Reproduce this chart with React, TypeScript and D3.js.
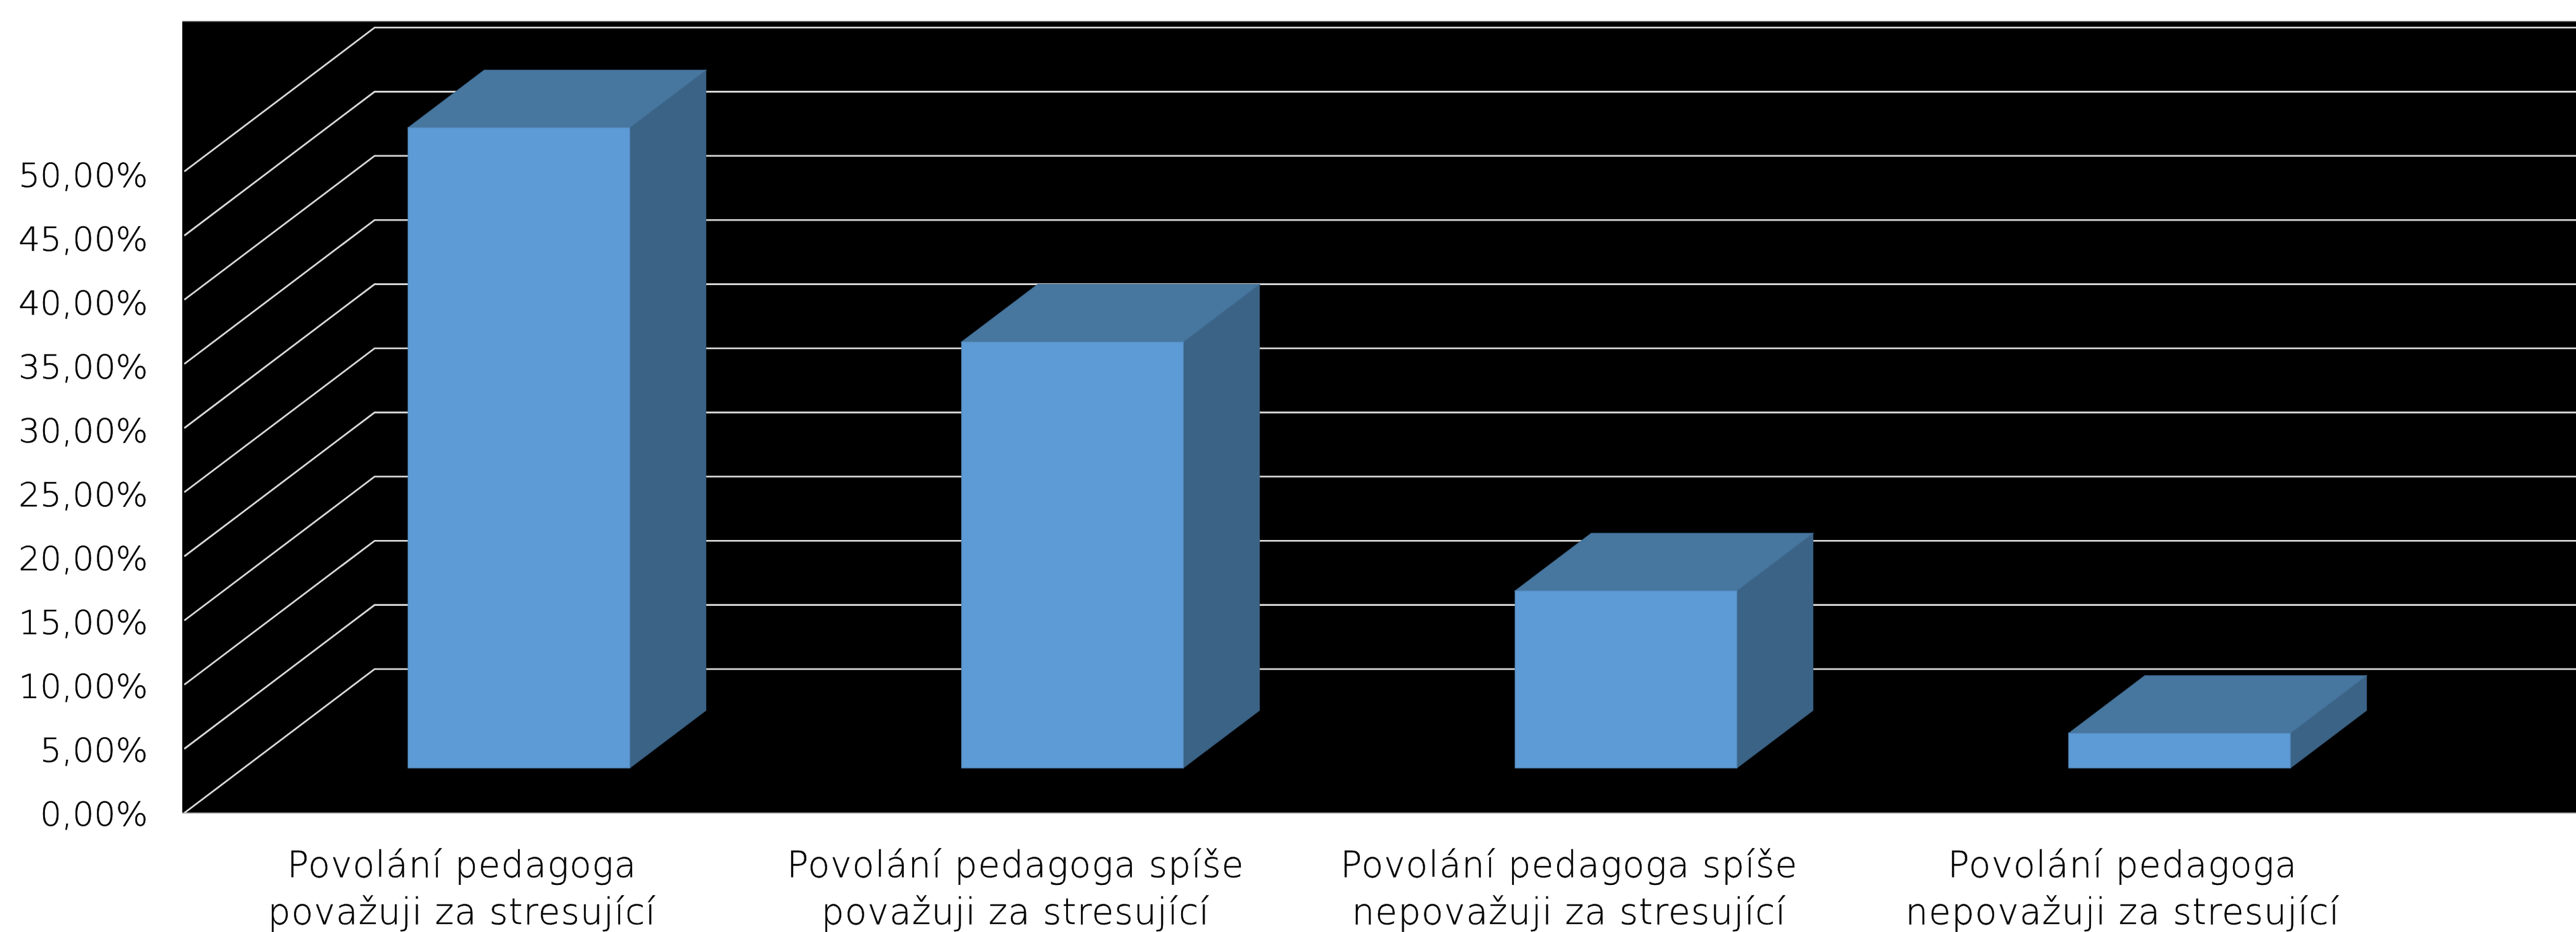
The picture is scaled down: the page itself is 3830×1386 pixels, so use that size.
import React from "react";
import * as d3 from "d3";

const categories: string[][] = [
  ["Povolání pedagoga", "považuji za stresující"],
  ["Povolání pedagoga spíše", "považuji za stresující"],
  ["Povolání pedagoga spíše", "nepovažuji za stresující"],
  ["Povolání pedagoga", "nepovažuji za stresující"],
];
const values = [49.9, 33.2, 13.8, 2.7];
const ticks = [0, 5, 10, 15, 20, 25, 30, 35, 40, 45, 50];
const tickLabels = ["0,00%", "5,00%", "10,00%", "15,00%", "20,00%", "25,00%", "30,00%", "35,00%", "40,00%", "45,00%", "50,00%"];

const W = 3830, H = 1386;
const panel = { x: 271, y: 32, r: 3830, b: 1209 };
const depth = { dx: 283, dy: -214 };
const barNear = 0.313, barFar = 0.713, barShift = 0.304;
const y = d3.scaleLinear().domain([0, 50]).range([1209, 255]);
const yLabel = d3.scaleLinear().domain([0, 50]).range([1228.3, 278]);
const x = d3.scaleBand<number>().domain(d3.range(categories.length)).range([274, 274 + 823 * 4]);
const barW = 329.5;
const FONT = "'DejaVu Sans', sans-serif";

const poly = (pts: [number, number][]) => (d3.line()(pts) as string) + "Z";

export default function App() {
  return (
    <svg width={W} height={H} viewBox={`0 0 ${W} ${H}`} style={{ position: "absolute", left: 0, top: 0, display: "block", background: "#fff" }}>
      <defs>
        <clipPath id="panel"><rect x={panel.x} y={panel.y} width={panel.r - panel.x} height={panel.b - panel.y} /></clipPath>
      </defs>
      <rect x={panel.x} y={panel.y} width={panel.r - panel.x} height={panel.b - panel.y} fill="#000" />
      <line x1={panel.x} x2={panel.r} y1={panel.y} y2={panel.y} stroke="#555" strokeWidth={1.5} />
      <line x1={panel.x} x2={panel.r} y1={panel.b} y2={panel.b} stroke="#999" strokeWidth={1.5} />
      <g clipPath="url(#panel)">
        {ticks.map((t) => (
          <path
            key={t}
            d={d3.line()([[x.range()[0], y(t)], [x.range()[0] + depth.dx, y(t) + depth.dy], [panel.r, y(t) + depth.dy]]) as string}
            fill="none" stroke="#d9d9d9" strokeWidth={2.6}
          />
        ))}
      </g>
      {ticks.map((t, i) => (
        <text key={t} x={220} y={yLabel(t)} textAnchor="end" fontFamily={FONT} fontWeight={200} fontSize={50.5} fill="#000" stroke="#000" strokeWidth={0.5}>{tickLabels[i]}</text>
      ))}
      {values.map((v, i) => {
        const cx = (x(i) as number) + x.bandwidth() / 2 + barShift * depth.dx;
        const x0 = cx - barW / 2, x1 = cx + barW / 2;
        const y0 = y(0) + barNear * depth.dy;
        const yt = y0 - (y(0) - y(v));
        const ddx = (barFar - barNear) * depth.dx, ddy = (barFar - barNear) * depth.dy;
        return (
          <g key={i}>
            <path d={poly([[x1, y0], [x1 + ddx, y0 + ddy], [x1 + ddx, yt + ddy], [x1, yt]])} fill="#3b6386" stroke="#385e80" strokeWidth={1.2} />
            <path d={poly([[x0, yt], [x0 + ddx, yt + ddy], [x1 + ddx, yt + ddy], [x1, yt]])} fill="#47769f" stroke="#436f96" strokeWidth={1.2} />
            <rect x={x0} y={yt} width={barW} height={y0 - yt} fill="#5d9bd6" stroke="#5389ba" strokeWidth={1.2} />
          </g>
        );
      })}
      {categories.map((lines, i) => (
        <text key={i} textAnchor="middle" fontFamily={FONT} fontWeight={200} fontSize={53} letterSpacing={1.2} fill="#000" stroke="#000" strokeWidth={0.5}>
          {lines.map((l, j) => (
            <tspan key={j} x={(x(i) as number) + x.bandwidth() / 2 + 1.5} y={1303.5 + j * 70}>{l}</tspan>
          ))}
        </text>
      ))}
    </svg>
  );
}
